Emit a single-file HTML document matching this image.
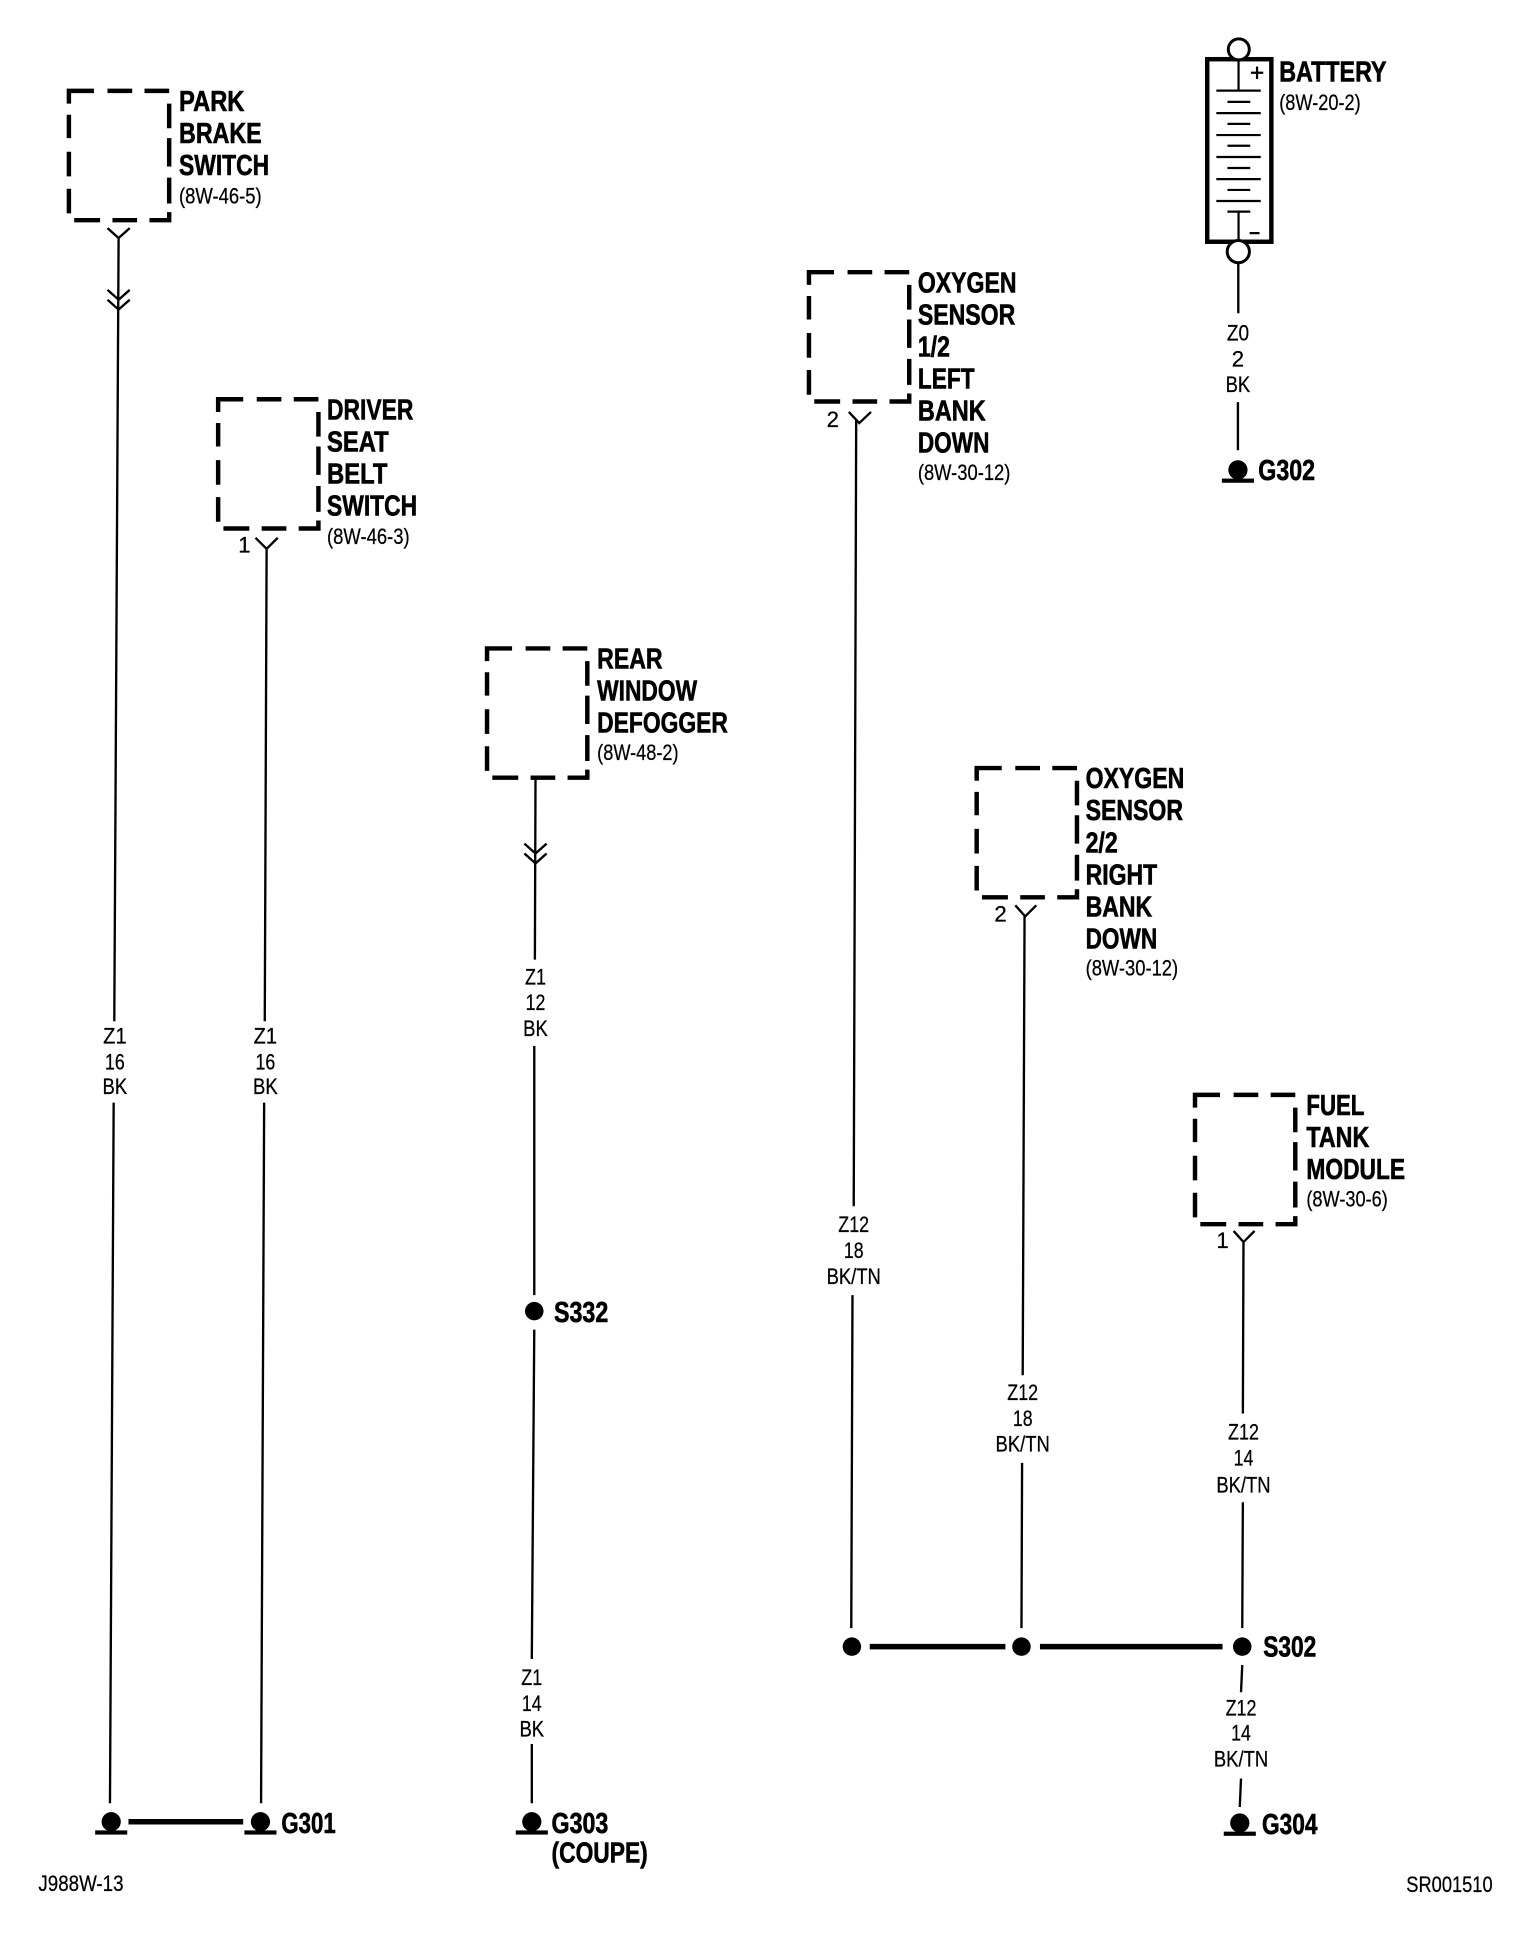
<!DOCTYPE html>
<html><head><meta charset="utf-8"><title>Ground distribution diagram</title>
<style>
html,body{margin:0;padding:0;background:#fff}
svg{display:block}
text{font-family:"Liberation Sans",sans-serif;fill:#000}
.b{font-weight:bold;font-size:23.5px;stroke:#000;stroke-width:.5}
.s{font-size:18px;stroke:#000;stroke-width:.2}
.m{text-anchor:middle}
.w{fill:none;stroke:#000;stroke-width:1.9}
.t{fill:none;stroke:#000;stroke-width:4.5}
</style></head><body>
<svg xmlns="http://www.w3.org/2000/svg" width="1536" height="1934" viewBox="0 0 1245 1568">
<defs>
<g id="box" fill="none" stroke="#000" stroke-width="3.6">
<path d="M55.700 84V73.700H76M87 73.700H107M117 73.700H137"/>
<path d="M55.700 93V112M55.700 123V143M55.700 153V173M137 84V104M137 112V135M137 144V165M137 172V178.500H121M111 178.500H91M81 178.500H60"/>
</g>
<g id="gnd"><circle cx="0" cy="0" r="7.800" fill="#000"/><rect x="-13" y="7" width="26" height="3.400" fill="#000"/></g>
</defs>

<use href="#box"/>
<use href="#box" x="121" y="250"/>
<use href="#box" x="339" y="452"/>
<use href="#box" x="600" y="147"/>
<use href="#box" x="736" y="549"/>
<use href="#box" x="913" y="814"/>

<!-- wires -->
<path class="w" d="M87 185L96 193L105 185M96 193L92.500 828M92 894L89 1462M87 235L96 243L105 235M87 243L96 251L105 243"/>
<path class="w" d="M207 436L216 445L225 436M216 445L214.500 828M214 894L211.500 1462"/>
<path class="w" d="M434 632L433.500 778M433 848L433 1050M433 1078L431 1345M431 1414L431 1462M425 684L434 692L443 684M425 692L434 700L443 692"/>
<path class="w" d="M688 334L696.500 343L706 334M694 340L692 978M691 1050L690 1320"/>
<path class="w" d="M823 734L831 743L840 734M830.500 743L829 1115M828.500 1186L828 1320"/>
<path class="w" d="M1000 998L1008 1007L1017 998M1008 1007L1007.500 1146M1007.500 1218L1007 1320M1007 1350L1006 1372M1006 1442L1005 1465"/>
<path class="w" d="M1003.800 213L1003.800 254M1003.500 326L1003.500 365"/>

<!-- thick bars -->
<path class="t" d="M104 1477H197M705 1335H815M843 1335H991"/>

<!-- dots -->
<circle cx="690.500" cy="1335" r="7.500" fill="#000"/>
<circle cx="828" cy="1335" r="7.500" fill="#000"/>
<circle cx="1007" cy="1335" r="7.500" fill="#000"/>
<circle cx="433" cy="1063" r="7.500" fill="#000"/>

<!-- grounds -->
<use href="#gnd" x="90" y="1477"/>
<use href="#gnd" x="211" y="1477"/>
<use href="#gnd" x="431" y="1477"/>
<use href="#gnd" x="1005" y="1478"/>
<use href="#gnd" x="1003.500" y="381"/>

<!-- battery -->
<rect x="978.600" y="48" width="52" height="148" fill="none" stroke="#000" stroke-width="3.600"/>
<circle cx="1004.200" cy="40" r="8.500" fill="#fff" stroke="#000" stroke-width="2.400"/>
<circle cx="1003.800" cy="204" r="9" fill="#fff" stroke="#000" stroke-width="2.400"/>
<path d="M1004 48V73.500M1004 172V196M986 73.500H1022M986 91.700H1022M986 109.500H1022M986 127.300H1022M986 145.200H1022M986 163H1022M995 82.600H1013.500M995 100.400H1013.500M995 118.200H1013.500M995 136.200H1013.500M995 154H1013.500M995 171.600H1013.500M1019 54V64M1014 59H1024M1013 189H1021" fill="none" stroke="#000" stroke-width="1.800"/>

<!-- bold labels -->
<text class="b" x="145" y="90" textLength="53" lengthAdjust="spacingAndGlyphs">PARK</text>
<text class="b" x="145" y="116" textLength="67" lengthAdjust="spacingAndGlyphs">BRAKE</text>
<text class="b" x="145" y="142" textLength="73" lengthAdjust="spacingAndGlyphs">SWITCH</text>
<text class="s" x="145" y="165" textLength="67" lengthAdjust="spacingAndGlyphs">(8W-46-5)</text>

<text class="b" x="265" y="340" textLength="70" lengthAdjust="spacingAndGlyphs">DRIVER</text>
<text class="b" x="265" y="366" textLength="50" lengthAdjust="spacingAndGlyphs">SEAT</text>
<text class="b" x="265" y="392" textLength="49" lengthAdjust="spacingAndGlyphs">BELT</text>
<text class="b" x="265" y="418" textLength="73" lengthAdjust="spacingAndGlyphs">SWITCH</text>
<text class="s" x="265" y="441" textLength="67" lengthAdjust="spacingAndGlyphs">(8W-46-3)</text>

<text class="b" x="484" y="542" textLength="53" lengthAdjust="spacingAndGlyphs">REAR</text>
<text class="b" x="484" y="568" textLength="81" lengthAdjust="spacingAndGlyphs">WINDOW</text>
<text class="b" x="484" y="594" textLength="106" lengthAdjust="spacingAndGlyphs">DEFOGGER</text>
<text class="s" x="484" y="616" textLength="66" lengthAdjust="spacingAndGlyphs">(8W-48-2)</text>

<text class="b" x="744" y="237" textLength="80" lengthAdjust="spacingAndGlyphs">OXYGEN</text>
<text class="b" x="744" y="263" textLength="79" lengthAdjust="spacingAndGlyphs">SENSOR</text>
<text class="b" x="744" y="289" textLength="26" lengthAdjust="spacingAndGlyphs">1/2</text>
<text class="b" x="744" y="315" textLength="46" lengthAdjust="spacingAndGlyphs">LEFT</text>
<text class="b" x="744" y="341" textLength="55" lengthAdjust="spacingAndGlyphs">BANK</text>
<text class="b" x="744" y="367" textLength="58" lengthAdjust="spacingAndGlyphs">DOWN</text>
<text class="s" x="744" y="389" textLength="75" lengthAdjust="spacingAndGlyphs">(8W-30-12)</text>

<text class="b" x="880" y="639" textLength="80" lengthAdjust="spacingAndGlyphs">OXYGEN</text>
<text class="b" x="880" y="665" textLength="79" lengthAdjust="spacingAndGlyphs">SENSOR</text>
<text class="b" x="880" y="691" textLength="26" lengthAdjust="spacingAndGlyphs">2/2</text>
<text class="b" x="880" y="717" textLength="58" lengthAdjust="spacingAndGlyphs">RIGHT</text>
<text class="b" x="880" y="743" textLength="54" lengthAdjust="spacingAndGlyphs">BANK</text>
<text class="b" x="880" y="769" textLength="58" lengthAdjust="spacingAndGlyphs">DOWN</text>
<text class="s" x="880" y="791" textLength="75" lengthAdjust="spacingAndGlyphs">(8W-30-12)</text>

<text class="b" x="1059" y="904" textLength="47" lengthAdjust="spacingAndGlyphs">FUEL</text>
<text class="b" x="1059" y="930" textLength="51" lengthAdjust="spacingAndGlyphs">TANK</text>
<text class="b" x="1059" y="956" textLength="80" lengthAdjust="spacingAndGlyphs">MODULE</text>
<text class="s" x="1059" y="978" textLength="66" lengthAdjust="spacingAndGlyphs">(8W-30-6)</text>

<text class="b" x="1037" y="66" textLength="87" lengthAdjust="spacingAndGlyphs">BATTERY</text>
<text class="s" x="1037" y="89" textLength="66" lengthAdjust="spacingAndGlyphs">(8W-20-2)</text>

<text class="b" x="1020" y="389" textLength="46" lengthAdjust="spacingAndGlyphs">G302</text>
<text class="b" x="228" y="1486" textLength="44" lengthAdjust="spacingAndGlyphs">G301</text>
<text class="b" x="447" y="1486" textLength="46" lengthAdjust="spacingAndGlyphs">G303</text>
<text class="b" x="447" y="1510" textLength="78" lengthAdjust="spacingAndGlyphs">(COUPE)</text>
<text class="b" x="449" y="1072" textLength="44" lengthAdjust="spacingAndGlyphs">S332</text>
<text class="b" x="1024" y="1343" textLength="43" lengthAdjust="spacingAndGlyphs">S302</text>
<text class="b" x="1023" y="1487" textLength="45" lengthAdjust="spacingAndGlyphs">G304</text>

<text class="s" x="31" y="1533" textLength="69" lengthAdjust="spacingAndGlyphs">J988W-13</text>
<text class="s" x="1140" y="1534" textLength="70" lengthAdjust="spacingAndGlyphs">SR001510</text>

<text class="s m" x="198" y="448">1</text>
<text class="s m" x="675" y="346">2</text>
<text class="s m" x="811" y="747">2</text>
<text class="s m" x="991" y="1012">1</text>

<!-- wire labels -->
<text class="s m" x="93" y="846" textLength="19" lengthAdjust="spacingAndGlyphs">Z1</text><text class="s m" x="93" y="867" textLength="16" lengthAdjust="spacingAndGlyphs">16</text><text class="s m" x="93" y="887" textLength="20" lengthAdjust="spacingAndGlyphs">BK</text>
<text class="s m" x="215" y="846" textLength="19" lengthAdjust="spacingAndGlyphs">Z1</text><text class="s m" x="215" y="867" textLength="16" lengthAdjust="spacingAndGlyphs">16</text><text class="s m" x="215" y="887" textLength="20" lengthAdjust="spacingAndGlyphs">BK</text>
<text class="s m" x="434" y="798" textLength="17" lengthAdjust="spacingAndGlyphs">Z1</text><text class="s m" x="434" y="819" textLength="16" lengthAdjust="spacingAndGlyphs">12</text><text class="s m" x="434" y="840" textLength="20" lengthAdjust="spacingAndGlyphs">BK</text>
<text class="s m" x="431" y="1366" textLength="17" lengthAdjust="spacingAndGlyphs">Z1</text><text class="s m" x="431" y="1387" textLength="16" lengthAdjust="spacingAndGlyphs">14</text><text class="s m" x="431" y="1408" textLength="20" lengthAdjust="spacingAndGlyphs">BK</text>
<text class="s m" x="692" y="999" textLength="25" lengthAdjust="spacingAndGlyphs">Z12</text><text class="s m" x="692" y="1020" textLength="16" lengthAdjust="spacingAndGlyphs">18</text><text class="s m" x="692" y="1041" textLength="44" lengthAdjust="spacingAndGlyphs">BK/TN</text>
<text class="s m" x="829" y="1135" textLength="25" lengthAdjust="spacingAndGlyphs">Z12</text><text class="s m" x="829" y="1156" textLength="16" lengthAdjust="spacingAndGlyphs">18</text><text class="s m" x="829" y="1177" textLength="44" lengthAdjust="spacingAndGlyphs">BK/TN</text>
<text class="s m" x="1008" y="1167" textLength="25" lengthAdjust="spacingAndGlyphs">Z12</text><text class="s m" x="1008" y="1188" textLength="16" lengthAdjust="spacingAndGlyphs">14</text><text class="s m" x="1008" y="1210" textLength="44" lengthAdjust="spacingAndGlyphs">BK/TN</text>
<text class="s m" x="1006" y="1391" textLength="25" lengthAdjust="spacingAndGlyphs">Z12</text><text class="s m" x="1006" y="1411" textLength="16" lengthAdjust="spacingAndGlyphs">14</text><text class="s m" x="1006" y="1432" textLength="44" lengthAdjust="spacingAndGlyphs">BK/TN</text>
<text class="s m" x="1003.500" y="276" textLength="18" lengthAdjust="spacingAndGlyphs">Z0</text><text class="s m" x="1003.500" y="297">2</text><text class="s m" x="1003.500" y="318" textLength="20" lengthAdjust="spacingAndGlyphs">BK</text>
</svg>
</body></html>
